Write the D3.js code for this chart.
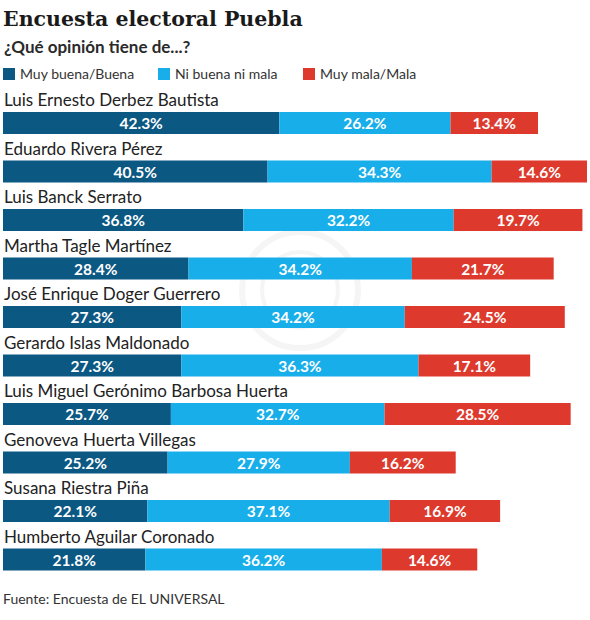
<!DOCTYPE html>
<html>
<head>
<meta charset="utf-8">
<script src="https://cdn.jsdelivr.net/npm/d3@7"></script>
<style>
  body { margin: 0; background: #fff; }
  svg { display: block; }
</style>
</head>
<body>
<svg id="chart"></svg>
<script>
// Survey data
const candidates = [
  "Luis Ernesto Derbez Bautista",
  "Eduardo Rivera Pérez",
  "Luis Banck Serrato",
  "Martha Tagle Martínez",
  "José Enrique Doger Guerrero",
  "Gerardo Islas Maldonado",
  "Luis Miguel Gerónimo Barbosa Huerta",
  "Genoveva Huerta Villegas",
  "Susana Riestra Piña",
  "Humberto Aguilar Coronado"
];
const buena = [42.3, 40.5, 36.8, 28.4, 27.3, 27.3, 25.7, 25.2, 22.1, 21.8];
const niBuenaNiMala = [26.2, 34.3, 32.2, 34.2, 34.2, 36.3, 32.7, 27.9, 37.1, 36.2];
const mala = [13.4, 14.6, 19.7, 21.7, 24.5, 17.1, 28.5, 16.2, 16.9, 14.6];
const seriesNames = ["Muy buena/Buena", "Ni buena ni mala", "Muy mala/Mala"];

const colors = ["#0b5883", "#18aee9", "#dd3a2d"];
const width = 590, height = 620;

const svg = d3.select("#chart")
  .attr("width", width)
  .attr("height", height);

const sansFont = "Lato, 'Open Sans', sans-serif";

// Title + subtitle
svg.append("text")
  .attr("x", 3).attr("y", 26)
  .attr("font-family", "'DejaVu Serif', serif")
  .attr("font-weight", "bold")
  .attr("font-size", 20.5)
  .attr("fill", "#1a1a1a")
  .text("Encuesta electoral Puebla");

svg.append("text")
  .attr("x", 4).attr("y", 53)
  .attr("font-family", sansFont)
  .attr("font-weight", "bold")
  .attr("font-size", 17)
  .attr("fill", "#2a2a2a")
  .text("¿Qué opinión tiene de...?");

// Legend
const legendX = [3, 158, 303];
const legend = svg.append("g");
seriesNames.forEach((name, i) => {
  legend.append("rect")
    .attr("x", legendX[i]).attr("y", 68)
    .attr("width", 12).attr("height", 12)
    .attr("fill", colors[i]);
  legend.append("text")
    .attr("x", legendX[i] + 17).attr("y", 79)
    .attr("font-family", sansFont)
    .attr("font-size", 14)
    .attr("fill", "#333")
    .text(name);
});

// Faint watermark in the background
const wm = svg.append("g").attr("opacity", 0.05);
wm.append("circle").attr("cx", 300).attr("cy", 290).attr("r", 58)
  .attr("fill", "none").attr("stroke", "#555").attr("stroke-width", 6);
wm.append("circle").attr("cx", 300).attr("cy", 290).attr("r", 38)
  .attr("fill", "none").attr("stroke", "#555").attr("stroke-width", 4);

// Scales
const x = d3.scaleLinear().domain([0, 89.4]).range([3, 587]);
const y = d3.scaleBand()
  .domain(candidates)
  .range([112, 112 + 48.5 * candidates.length])
  .paddingInner(0);
const barH = 22;

const rows = svg.append("g").selectAll("g")
  .data(candidates)
  .join("g")
  .attr("transform", d => `translate(0,${y(d)})`);

rows.append("text")
  .attr("x", 4).attr("y", -6)
  .attr("font-family", sansFont)
  .attr("font-size", 17)
  .attr("fill", "#222")
  .text(d => d);

rows.each(function(name, i) {
  const vals = [buena[i], niBuenaNiMala[i], mala[i]];
  let acc = 0;
  const g = d3.select(this);
  vals.forEach((v, k) => {
    const x0 = x(acc), x1 = x(acc + v);
    g.append("rect")
      .attr("x", x0).attr("y", 0)
      .attr("width", x1 - x0).attr("height", barH)
      .attr("fill", colors[k]);
    g.append("text")
      .attr("x", (x0 + x1) / 2).attr("y", 17)
      .attr("text-anchor", "middle")
      .attr("font-family", sansFont)
      .attr("font-weight", "bold")
      .attr("font-size", 15.5)
      .attr("fill", "#fff")
      .text(v.toFixed(1) + "%");
    acc += v;
  });
});

// Source
svg.append("text")
  .attr("x", 3).attr("y", 604)
  .attr("font-family", sansFont)
  .attr("font-size", 14)
  .attr("fill", "#333")
  .text("Fuente: Encuesta de EL UNIVERSAL");
</script>
</body>
</html>
